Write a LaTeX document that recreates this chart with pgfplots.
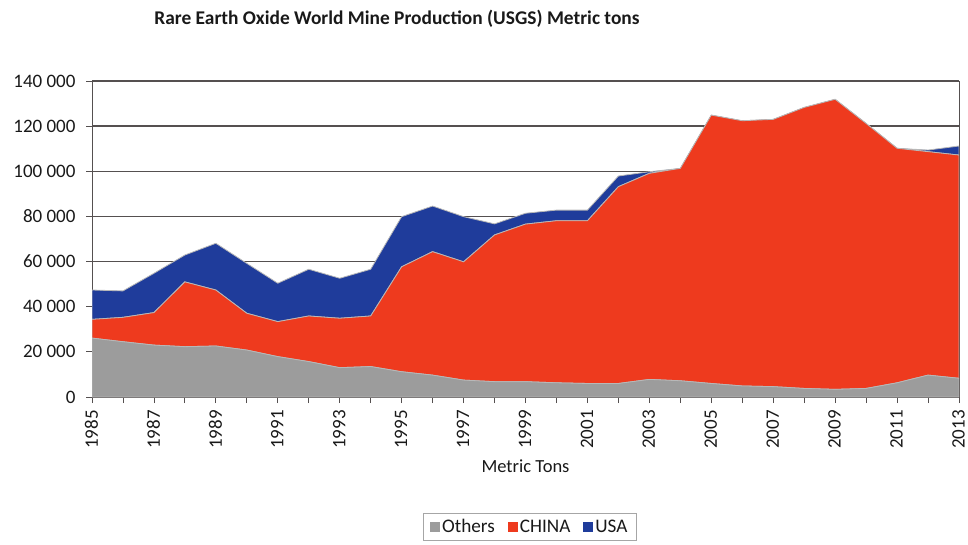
\documentclass[border=0pt]{standalone}
\usepackage{pgfplots}
\usepackage{pgfplotstable}
\pgfplotsset{compat=1.18}
\usepackage{fontspec}
\setmainfont{Carlito}
\definecolor{cOthers}{HTML}{9C9C9C}
\definecolor{cChina}{HTML}{EE3A1E}
\definecolor{cUSA}{HTML}{1F3C9B}
\definecolor{gridc}{HTML}{555050}
\definecolor{edgec}{HTML}{B8B8B8}

\pgfplotstableread{
year others china usa
1985 26100 8300 13000
1986 24500 10800 11700
1987 23000 14400 17400
1988 22300 28700 11900
1989 22600 24800 20700
1990 20800 16300 22100
1991 17900 15500 17000
1992 15700 20200 20700
1993 13000 21900 17700
1994 13500 22400 20700
1995 11200 46500 22200
1996 9700 54700 20200
1997 7500 52400 20000
1998 6800 65000 4900
1999 6800 69800 4800
2000 6300 71800 4700
2001 6000 72100 4700
2002 6000 87200 4700
2003 7800 91300 700
2004 7200 94100 0
2005 6000 118900 0
2006 4900 117500 0
2007 4600 118400 0
2008 3800 124500 0
2009 3400 128500 0
2010 3800 117400 0
2011 6300 103900 0
2012 9700 99000 700
2013 8300 98900 4000
}\datatable

\begin{document}
\begin{tikzpicture}
\useasboundingbox (0,0) rectangle (968bp,-545bp);
\node[font=\bfseries\fontsize{19.4bp}{22bp}\selectfont, text=black!90] at (397bp,-19bp) {Rare Earth Oxide World Mine Production (USGS) Metric tons};
\begin{axis}[
  at={(92bp,-397bp)}, anchor=south west,
  scale only axis, width=867bp, height=316bp,
  xmin=1985, xmax=2013, ymin=0, ymax=140000,
  stack plots=y,
  axis line style={gridc, line width=1bp},
  xtick={1985,1987,1989,1991,1993,1995,1997,1999,2001,2003,2005,2007,2009,2011,2013},
  xticklabels={1985,1987,1989,1991,1993,1995,1997,1999,2001,2003,2005,2007,2009,2011,2013},
  minor xtick={1986,1988,1990,1992,1994,1996,1998,2000,2002,2004,2006,2008,2010,2012},
  ytick={0,20000,40000,60000,80000,100000,120000,140000},
  yticklabels={0,20 000,40 000,60 000,80 000,100 000,120 000,140 000},
  scaled y ticks=false,
  tick align=outside,
  xtick pos=bottom, ytick pos=left,
  major tick length=6bp, minor tick length=6bp,
  every tick/.style={gridc, line width=0.8bp},
  every minor tick/.style={gridc, line width=0.8bp},
  ymajorgrids,
  major grid style={gridc, line width=1.3bp},
  tick label style={font=\fontsize{19bp}{21bp}\selectfont, text=black!90},
  yticklabel style={xshift=-7bp},
  xticklabel style={rotate=90, anchor=east, inner sep=1bp, xshift=-6bp, yshift=0.5bp},
  xlabel={Metric Tons},
  xlabel style={font=\fontsize{18.5bp}{21bp}\selectfont, text=black!90, at={(axis description cs:0.5,-0.218)}, anchor=center},
  legend columns=3,
  legend style={at={(axis description cs:0.505,-0.411)}, anchor=center,
    draw=gray!70, line width=0.8bp, font=\fontsize{19.2bp}{22bp}\selectfont, text=black!90,
    inner xsep=7bp, inner ysep=4bp,
    /tikz/every even column/.append style={column sep=11bp}},
  legend image code/.code={\fill[#1,draw=none] (0bp,-5bp) rectangle (10bp,5bp);},
]
\addplot[fill=cOthers, draw=edgec, line width=0.8bp] table[x=year, y=others] {\datatable} \closedcycle;
\addlegendentry{Others}
\addplot[fill=cChina, draw=edgec, line width=0.8bp] table[x=year, y=china] {\datatable} \closedcycle;
\addlegendentry{CHINA}
\addplot[fill=cUSA, draw=edgec, line width=0.8bp] table[x=year, y=usa] {\datatable} \closedcycle;
\addlegendentry{USA}
\end{axis}
\end{tikzpicture}
\end{document}
